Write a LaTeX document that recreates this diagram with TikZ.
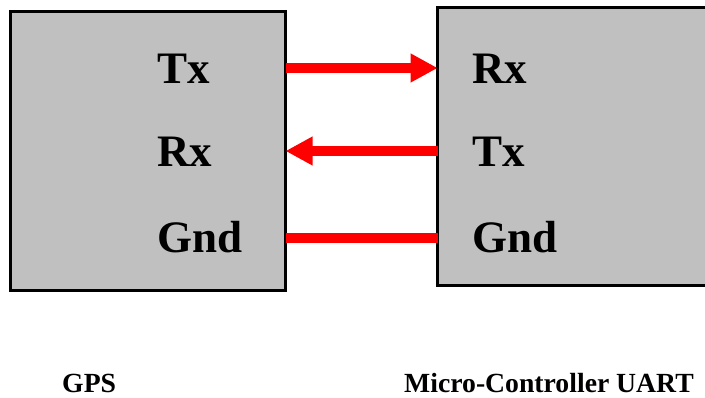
\documentclass[tikz,border=0pt]{standalone}
\usepackage{fontspec}
\setmainfont{Liberation Serif}
\usepackage{xcolor}
\usepackage{tikz}
\usetikzlibrary{arrows.meta,positioning,calc}
\definecolor{boxgrey}{HTML}{C0C0C0}
\definecolor{wire}{HTML}{FF0000}
\tikzset{
  unit/.style={draw=black,fill=boxgrey,line width=3pt,outer sep=0pt,inner sep=0pt},
  pin/.style={font=\fontsize{45}{50}\selectfont\bfseries,anchor=west,inner sep=0pt},
  caption/.style={font=\fontsize{27.7}{30}\selectfont\bfseries,anchor=base west,inner sep=0pt},
  link/.style={wire,line width=10pt},
  sig/.style={link,-{Triangle[length=27pt,width=27pt]}}
}

\begin{document}
\begin{tikzpicture}[x=1pt,y=-1pt]
  \useasboundingbox (0,0) rectangle (705,398);
  \node[unit,minimum width=275.5pt,minimum height=279pt] (gps) at (147.75,151.5) {};
  \node[unit,minimum width=284pt,minimum height=278.7pt] (mcu) at (579.7,146.65) {};
  % pins
  \node[pin] (gpstx) at (157,69) {Tx};
  \node[pin] (gpsrx) at (157,152) {Rx};
  \node[pin] (gpsgnd) at (157,237) {Gnd};
  \node[pin] (mcurx) at (472,69) {Rx};
  \node[pin] (mcutx) at (472,152) {Tx};
  \node[pin] (mcugnd) at (472,237) {Gnd};
  % wires
  \draw[sig] (gps.east |- 0,68) -- (mcu.west |- 0,68);
  \draw[sig] (mcu.west |- 0,151) -- (gps.east |- 0,151);
  \draw[link] (gps.east |- 0,238) -- (mcu.west |- 0,238);
  \node[caption] (gpsname) at (62,392.5) {GPS};
  \node[caption] (mcuname) at (404,392.5) {Micro-Controller UART};
\end{tikzpicture}
\end{document}
